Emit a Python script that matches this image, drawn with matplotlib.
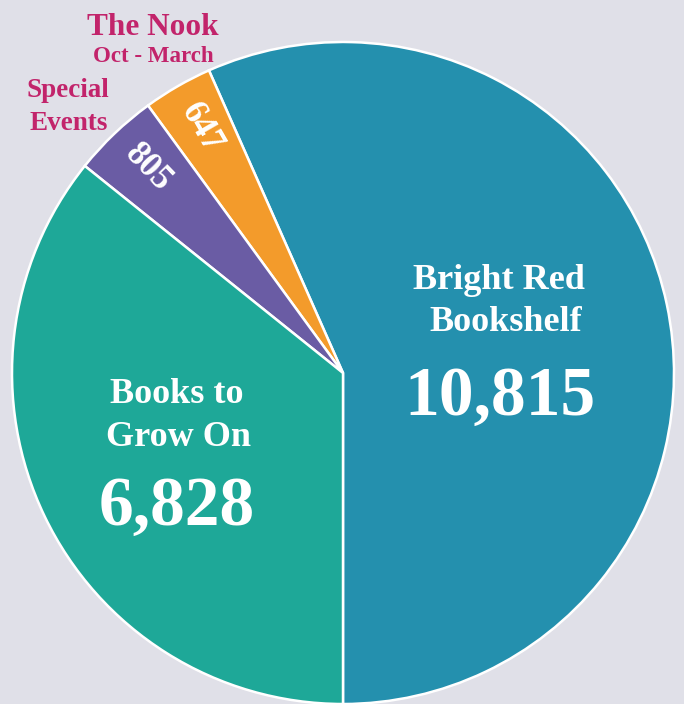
import numpy as np
import matplotlib
matplotlib.use("Agg")
import matplotlib.pyplot as plt

# values
categories = ["Bright Red Bookshelf", "The Nook", "Special Events", "Books to Grow On"]
values = [10815, 647, 805, 6828]
colors = ["#2490ae", "#f39b2b", "#6a5ca4", "#1ea898"]

W, H = 684, 704
bg = "#e0e0e8"
label_col = "#c2246b"

plt.rcParams["font.family"] = ["Liberation Serif", "DejaVu Serif"]

fig = plt.figure(figsize=(W / 100, H / 100), dpi=100, facecolor=bg)
ax = fig.add_axes([0, 0, 1, 1])
ax.set_facecolor(bg)

def ty(y):
    # pixel row (from top) -> data y
    return H - y

cx, cy, R = 343, ty(373), 331
wedges, _ = ax.pie(values, colors=colors, startangle=-90, counterclock=True,
                   center=(cx, cy), radius=R, frame=True,
                   wedgeprops=dict(edgecolor="white", linewidth=1.8))
ax.set_xlim(0, W)
ax.set_ylim(0, H)
ax.set_aspect("equal")
ax.axis("off")

# big labels inside the two large slices
big = dict(color="white", fontweight="bold", ha="center", va="baseline")
ax.text(499, ty(289), "Bright Red", fontsize=26, **big)
ax.text(506, ty(331), "Bookshelf", fontsize=26, **big)
ax.text(500, ty(415), f"{values[0]:,}", fontsize=50, **big)
ax.text(177, ty(403), "Books to", fontsize=26, **big)
ax.text(178, ty(446), "Grow On", fontsize=26, **big)
ax.text(177, ty(525), f"{values[3]:,}", fontsize=50, **big)

# rotated numbers in the thin slices
for w, v in zip(wedges[1:3], values[1:3]):
    mid = np.deg2rad((w.theta1 + w.theta2) / 2)
    r = 0.855 * R
    ax.text(cx + r * np.cos(mid), cy + r * np.sin(mid), f"{v:,}",
            rotation=np.rad2deg(mid) - 180, rotation_mode="anchor",
            ha="center", va="center", color="white", fontweight="bold", fontsize=25)

# outside labels
small = dict(color=label_col, fontweight="bold", ha="center", va="baseline")
ax.text(153, ty(35), "The Nook", fontsize=22.5, **small)
ax.text(153, ty(62), "Oct - March", fontsize=16.5, **small)
ax.text(68, ty(97), "Special", fontsize=19.5, **small)
ax.text(69, ty(130), "Events", fontsize=19.5, **small)

fig.savefig("out.png", dpi=100, facecolor=bg)
